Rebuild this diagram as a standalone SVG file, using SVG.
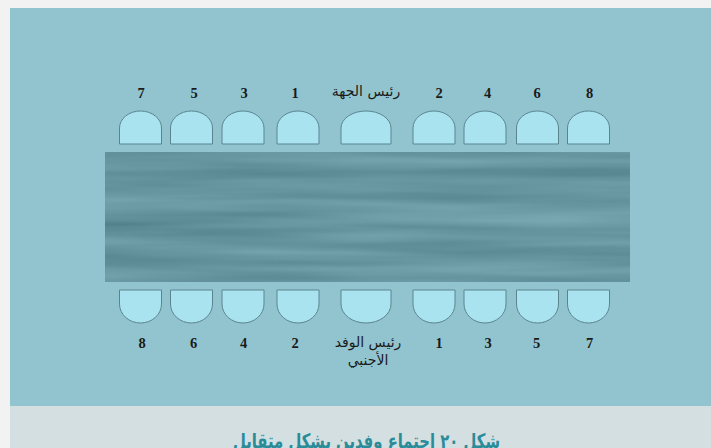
<svg xmlns="http://www.w3.org/2000/svg" width="711" height="448" viewBox="0 0 711 448">
  <style>
    .chair { fill: #a9e3ef; stroke: #5b858e; stroke-width: 1; }
    .num { font-family: "Liberation Serif", serif; font-weight: bold; font-size: 14.5px; fill: #1a1a1a; text-anchor: middle; }
    .ar { font-family: "DejaVu Sans", sans-serif; font-size: 14px; fill: #1a1a1a; text-anchor: middle; direction: rtl; }
    .cap { font-family: "DejaVu Sans", sans-serif; font-weight: bold; font-size: 20px; fill: #2a8b99; text-anchor: middle; direction: rtl; }
  </style>
  <defs>
    <filter id="grain" x="0" y="0" width="1" height="1" color-interpolation-filters="sRGB">
      <feTurbulence type="fractalNoise" baseFrequency="0.003 0.06" numOctaves="3" seed="7" result="n"/>
      <feColorMatrix in="n" type="matrix" values="0.2 0 0 0 0.31  0.2 0 0 0 0.49  0.2 0 0 0 0.53  0 0 0 0 1"/>
    </filter>
  </defs>

  <rect x="0" y="0" width="711" height="448" fill="#f2f2f2"/>
  <rect x="10" y="8" width="701" height="398" fill="#91c4cf"/>
  <rect x="10" y="406" width="701" height="42" fill="#d3dfe1"/>

  <g id="table">
    <rect x="105" y="152" width="525" height="130" fill="#6a99a1" filter="url(#grain)"/>
  </g>

  <g id="connectors"/>

  <!-- top side -->
  <g id="top-7"><path class="chair" d="M119.5,144 V128 A21,17 0 0 1 161.5,128 V144 Z"/><text class="num" x="141" y="98">7</text></g>
  <g id="top-5"><path class="chair" d="M170.5,144 V128 A21,17 0 0 1 212.5,128 V144 Z"/><text class="num" x="194" y="98">5</text></g>
  <g id="top-3"><path class="chair" d="M222,144 V128 A21,17 0 0 1 264,128 V144 Z"/><text class="num" x="244" y="98">3</text></g>
  <g id="top-1"><path class="chair" d="M277,144 V128 A21,17 0 0 1 319,128 V144 Z"/><text class="num" x="295" y="98">1</text></g>
  <g id="top-head"><path class="chair" d="M341,144 V128 A25,17 0 0 1 391,128 V144 Z"/><text class="ar" x="366" y="96">رئيس الجهة</text></g>
  <g id="top-2"><path class="chair" d="M413,144 V128 A21,17 0 0 1 455,128 V144 Z"/><text class="num" x="439" y="98">2</text></g>
  <g id="top-4"><path class="chair" d="M464,144 V128 A21,17 0 0 1 506,128 V144 Z"/><text class="num" x="487.5" y="98">4</text></g>
  <g id="top-6"><path class="chair" d="M516.5,144 V128 A21,17 0 0 1 558.5,128 V144 Z"/><text class="num" x="537" y="98">6</text></g>
  <g id="top-8"><path class="chair" d="M567.5,144 V128 A21,17 0 0 1 609.5,128 V144 Z"/><text class="num" x="589.5" y="98">8</text></g>

  <!-- bottom side -->
  <g id="bottom-8"><path class="chair" d="M119.5,290 V304 A21,19 0 0 0 161.5,304 V290 Z"/><text class="num" x="142" y="348">8</text></g>
  <g id="bottom-6"><path class="chair" d="M170.5,290 V304 A21,19 0 0 0 212.5,304 V290 Z"/><text class="num" x="193.5" y="348">6</text></g>
  <g id="bottom-4"><path class="chair" d="M222,290 V304 A21,19 0 0 0 264,304 V290 Z"/><text class="num" x="243.5" y="348">4</text></g>
  <g id="bottom-2"><path class="chair" d="M277,290 V304 A21,19 0 0 0 319,304 V290 Z"/><text class="num" x="295" y="348">2</text></g>
  <g id="bottom-head"><path class="chair" d="M341,290 V304 A25,19 0 0 0 391,304 V290 Z"/><text class="ar" x="368" y="347">رئيس الوفد</text><text class="ar" x="368" y="365">الأجنبي</text></g>
  <g id="bottom-1"><path class="chair" d="M413,290 V304 A21,19 0 0 0 455,304 V290 Z"/><text class="num" x="439" y="348">1</text></g>
  <g id="bottom-3"><path class="chair" d="M464,290 V304 A21,19 0 0 0 506,304 V290 Z"/><text class="num" x="488" y="348">3</text></g>
  <g id="bottom-5"><path class="chair" d="M516.5,290 V304 A21,19 0 0 0 558.5,304 V290 Z"/><text class="num" x="536.5" y="348">5</text></g>
  <g id="bottom-7"><path class="chair" d="M567.5,290 V304 A21,19 0 0 0 609.5,304 V290 Z"/><text class="num" x="589.5" y="348">7</text></g>

  <g id="caption">
    <text class="cap" x="366.5" y="448" textLength="267" lengthAdjust="spacingAndGlyphs">شكل ٢٠ اجتماع وفدين بشكل متقابل</text>
  </g>
</svg>
